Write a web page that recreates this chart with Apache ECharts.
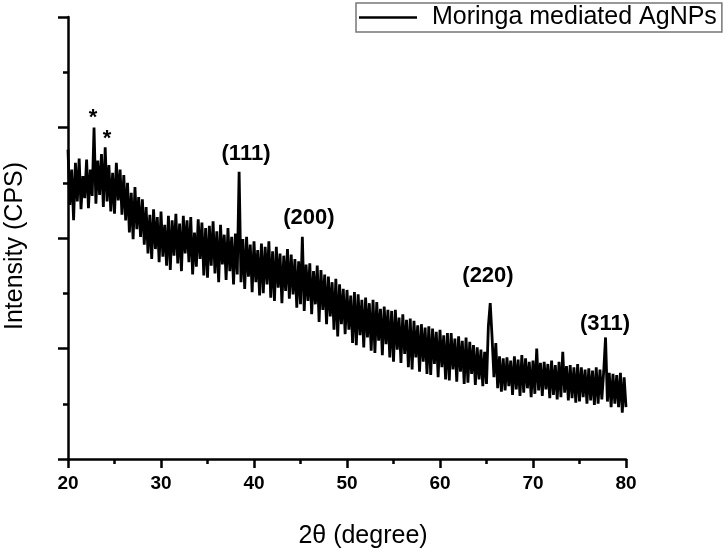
<!DOCTYPE html>
<html>
<head>
<meta charset="utf-8">
<script src="https://cdn.jsdelivr.net/npm/echarts@6/dist/echarts.min.js"></script>
<style>
html,body{margin:0;padding:0;background:#fff;}
#chart{width:726px;height:551px;}
</style>
</head>
<body>
<div id="chart"></div>
<script>
// 2-theta sampling grid (degrees)
const thetaStart = 20;
const thetaStep = 0.2;

// Intensity (arbitrary CPS units), one value per 0.2 deg, 20.0 -> 80.0
const intensity = [
  280, 230, 262, 216, 268,
  233, 272, 226, 256, 236,
  271, 227, 262, 238, 300,
  231, 270, 239, 276, 228,
  282, 233, 266, 224, 259,
  222, 268, 234, 262, 221,
  257, 216, 250, 205, 241,
  199, 246, 208, 237, 201,
  235, 194, 228, 186, 221,
  181, 226, 190, 219, 178,
  224, 183, 212, 175, 220,
  171, 216, 184, 222, 177,
  213, 170, 220, 186, 216,
  178, 219, 167, 205, 174,
  217, 181, 214, 166, 209,
  164, 211, 175, 215, 168,
  206, 160, 212, 176, 203,
  162, 209, 170, 201, 158,
  204, 167, 260, 160, 199,
  154, 201, 165, 194, 151,
  197, 160, 189, 148, 195,
  150, 192, 158, 197, 146,
  188, 143, 192, 155, 186,
  141, 184, 152, 190, 145,
  185, 149, 181, 137, 179,
  140, 201, 134, 176, 143,
  177, 131, 170, 140, 175,
  124, 171, 135, 167, 122,
  165, 129, 160, 117, 163,
  111, 158, 122, 154, 113,
  153, 117, 148, 105, 151,
  103, 149, 112, 144, 101,
  146, 110, 141,  98, 144,
   96, 142, 107, 136,  94,
  138, 104, 135,  92, 134,
   88, 135,  99, 128,  87,
  131,  95, 126,  83, 127,
   81, 125,  92, 121,  79,
  122,  88, 119,  77, 120,
   76, 118,  86, 115,  74,
  117,  83, 112,  72, 114,
   71, 114,  81, 109,  70,
  111,  79, 107,  68, 110,
   69, 106,  77, 103,  67,
  101,  72,  99,  66,  97,
   68, 120, 141, 110,  74,
  105,  64,  93,  61,  91,
   62,  92,  66,  89,  58,
   93,  63,  90,  57,  94,
   60,  91,  64,  88,  56,
   89,  59, 100,  62,  87,
   57,  88,  63,  86,  55,
   89,  58,  85,  54,  88,
   56,  97,  60,  84,  53,
   85,  55,  83,  51,  86,
   52,  83,  56,  81,  50,
   82,  53,  80,  49,  83,
   50,  81,  54,  79, 110,
   52,  78,  47,  77,  50,
   76,  47,  78,  42,  74,
   47
];

// Peak annotations: [2theta, intensity, text]
const annotTheta = [22.69, 24.19, 39.14, 45.91, 65.16, 77.74];
const annotValue = [309, 290, 276, 218, 166, 122];
const annotText  = ['*', '*', '(111)', '(200)', '(220)', '(311)'];

const seriesName = 'Moringa mediated AgNPs';
const xTicks = { min: 20, max: 80, interval: 10 };
const yRange = { min: 0, max: 400, interval: 100 };

const lineData = intensity.map((v, i) => [+(thetaStart + i * thetaStep).toFixed(2), v]);
const annotData = annotTheta.map((t, i) => ({ value: [t, annotValue[i]], name: annotText[i] }));

const font = '"Liberation Sans", Arial, Helvetica, sans-serif';
const chart = echarts.init(document.getElementById('chart'), null, { renderer: 'canvas' });
chart.setOption({
  animation: false,
  backgroundColor: '#ffffff',
  grid: { left: 68, right: 100, top: 17, bottom: 92, containLabel: false, outerBoundsMode: 'none' },
  legend: {
    data: [seriesName],
    left: 356, top: 3,
    padding: [2, 5, 2, 3],
    borderColor: '#777', borderWidth: 1.5,
    itemWidth: 58, itemHeight: 2.5,
    icon: 'rect',
    itemStyle: { color: '#000' },
    textStyle: { fontFamily: font, fontSize: 25, color: '#000', padding: [0, 0, 0, 10] }
  },
  xAxis: {
    type: 'value', min: xTicks.min, max: xTicks.max, interval: xTicks.interval,
    name: '2θ (degree)', nameLocation: 'middle', nameGap: 65,
    nameTextStyle: { fontFamily: font, fontSize: 25, color: '#000', padding: [0, 0, 0, 32] },
    axisLine: { lineStyle: { color: '#000', width: 2.5 } },
    axisTick: { inside: false, length: 9, lineStyle: { color: '#000', width: 2.5 } },
    minorTick: { show: true, splitNumber: 2, length: 5, lineStyle: { color: '#000', width: 2.5 } },
    axisLabel: { fontFamily: font, fontSize: 19, fontWeight: 'bold', color: '#000', margin: 15 },
    splitLine: { show: false }
  },
  yAxis: {
    type: 'value', min: yRange.min, max: yRange.max, interval: yRange.interval,
    name: 'Intensity (CPS)', nameLocation: 'middle', nameGap: 40,
    nameTextStyle: { fontFamily: font, fontSize: 25, color: '#000', padding: [0, 16, 0, 0] },
    axisLine: { show: true, lineStyle: { color: '#000', width: 2.5 } },
    axisTick: { show: true, inside: false, length: 10, lineStyle: { color: '#000', width: 2.5 } },
    minorTick: { show: true, splitNumber: 2, length: 5, lineStyle: { color: '#000', width: 2.5 } },
    axisLabel: { show: false },
    splitLine: { show: false }
  },
  series: [
    {
      name: seriesName, type: 'line', data: lineData,
      showSymbol: false, symbol: 'none',
      lineStyle: { color: '#000', width: 2.8 },
      itemStyle: { color: '#000' },
      z: 2
    },
    {
      name: 'annotations', type: 'scatter', data: annotData,
      symbolSize: 0,
      itemStyle: { opacity: 1, color: '#000' },
      label: {
        show: true, position: 'inside', formatter: p => p.name,
        fontFamily: font, fontSize: 22, color: '#000', fontWeight: 'bold',
        textBorderWidth: 0, opacity: 1,
        verticalAlign: 'middle', align: 'center'
      },
      z: 3
    }
  ]
});
</script>
</body>
</html>
